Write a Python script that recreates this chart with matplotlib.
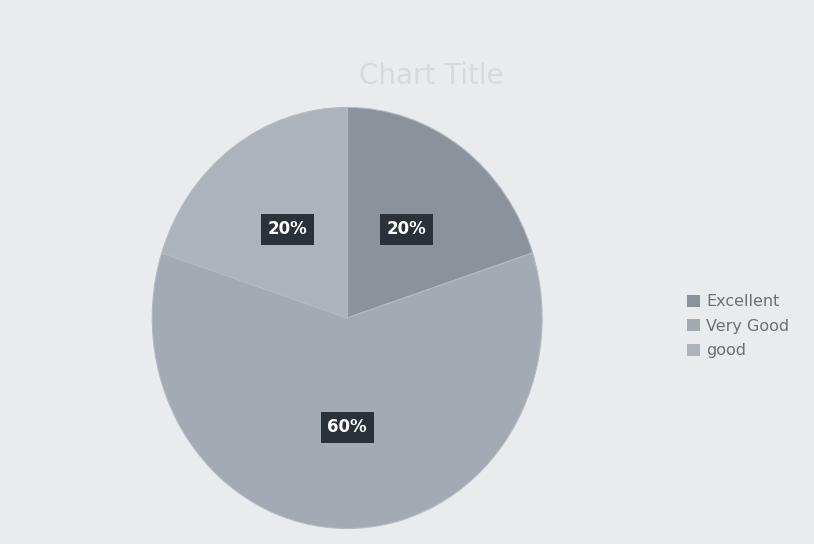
import matplotlib.pyplot as plt
from matplotlib.patches import Patch

categories = ['Excellent', 'Very Good', 'good']
shares = [20, 60, 20]
colors = ['#8a929b', '#a3aab3', '#adb3bb']

fig = plt.figure(figsize=(8.14, 5.44), dpi=100)
fig.patch.set_facecolor('#e9ecef')

ax = fig.add_axes([0.187, 0.0285, 0.479, 0.774])
wedges, texts, autotexts = ax.pie(
    shares, colors=colors, startangle=90, counterclock=False,
    autopct='%1.0f%%', pctdistance=0.52,
    wedgeprops=dict(linewidth=0.8, edgecolor='#b5bac1'))
for t in autotexts:
    t.set_color('white')
    t.set_fontweight('bold')
    t.set_fontsize(12)
    t.set_bbox(dict(facecolor='#2b3139', edgecolor='none', boxstyle='square,pad=0.4'))
ax.set_aspect('auto')
ax.set_xlim(-1, 1)
ax.set_ylim(-1, 1)

fig.text(0.53, 0.86, 'Chart Title', fontsize=20, color='#d6dadf', ha='center', va='center')

handles = [Patch(facecolor=c, edgecolor='none') for c in colors]
fig.legend(handles, categories, loc='center left', bbox_to_anchor=(0.826, 0.40),
           frameon=False, fontsize=11.5, labelcolor='#6b7077',
           handlelength=0.8, handleheight=0.8, handletextpad=0.4, labelspacing=0.6)

fig.savefig('out.png', dpi=100, facecolor=fig.get_facecolor())
